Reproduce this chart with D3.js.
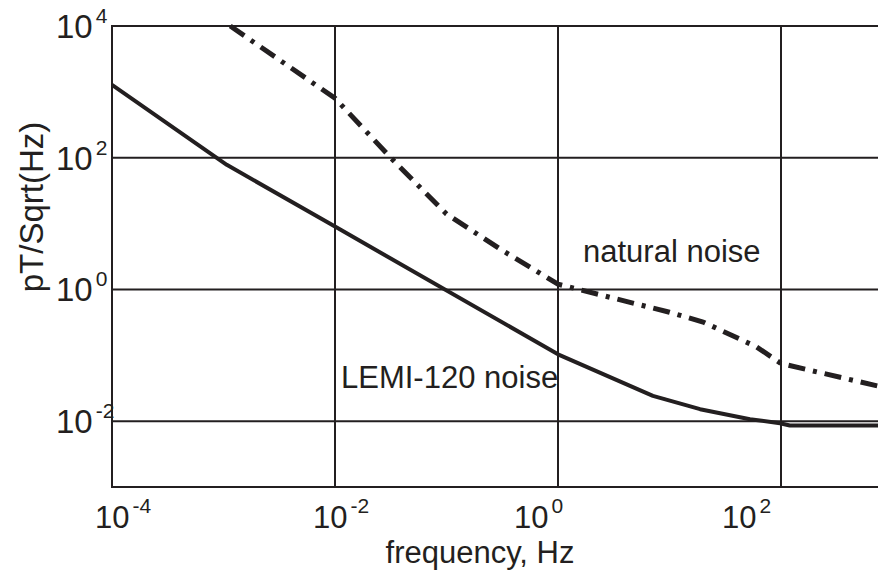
<!DOCTYPE html>
<html>
<head>
<meta charset="utf-8">
<script src="https://cdn.jsdelivr.net/npm/d3@7"></script>
<style>
  body { margin: 0; background: #fff; }
  text { font-family: "Liberation Sans", Arial, sans-serif; fill: #231f20; }
</style>
</head>
<body>
<div id="chart"></div>
<script>
// LEMI-120 sensor noise
const lemiFreq = [1e-4, 1.07e-3, 1e-2, 1, 7.1, 18.8, 52.7, 98, 120, 745];
const lemiNoise = [1280, 78, 9, 0.1035, 0.0242, 0.0152, 0.0107, 0.0093, 0.0086, 0.0086];

// natural magnetic noise
const naturalFreq = [1.15e-3, 1e-2, 3.16e-2, 0.1, 0.31, 1, 10, 20, 60, 100, 745];
const naturalNoise = [1e4, 800, 100, 14, 4, 1.2, 0.45, 0.32, 0.135, 0.075, 0.034];

// tick exponents
const xTickExp = [-4, -2, 0, 2];
const yTickExp = [4, 2, 0, -2];

const W = 878, H = 571;
const margin = { left: 112, right: 878, top: 26, bottom: 487 };
const ink = "#231f20";
// hand placed x tick labels in the original drift left of their ticks
const xLabelNudge = [-17, -22, -44, -59];

const svg = d3.select("#chart")
    .append("svg")
    .attr("width", W)
    .attr("height", H);

// x scale: 1e-4 .. 1e2 spans 112..781, chart cut off at the right edge
const x = d3.scaleLog()
    .domain([1e-4, 1e2])
    .range([margin.left, 781]);
const y = d3.scaleLog()
    .domain([1e-3, 1e4])
    .range([margin.bottom, margin.top]);

svg.append("clipPath").attr("id", "plot")
    .append("rect")
    .attr("x", margin.left).attr("y", margin.top - 5)
    .attr("width", margin.right - margin.left)
    .attr("height", margin.bottom - margin.top + 5);

// grid
const grid = svg.append("g").attr("stroke", ink).attr("stroke-width", 2);
grid.selectAll(".hg")
    .data(yTickExp)
    .join("line")
    .attr("x1", margin.left).attr("x2", margin.right)
    .attr("y1", d => y(Math.pow(10, d)))
    .attr("y2", d => y(Math.pow(10, d)));
grid.selectAll(".vg")
    .data(xTickExp.slice(1))
    .join("line")
    .attr("y1", margin.top).attr("y2", margin.bottom)
    .attr("x1", d => x(Math.pow(10, d)))
    .attr("x2", d => x(Math.pow(10, d)));
// frame (left + bottom)
grid.append("line")
    .attr("x1", margin.left).attr("x2", margin.left)
    .attr("y1", margin.top - 1).attr("y2", margin.bottom + 1);
grid.append("line")
    .attr("x1", margin.left).attr("x2", margin.right)
    .attr("y1", margin.bottom).attr("y2", margin.bottom);

// curves
const line = d3.line()
    .x(d => x(d[0]))
    .y(d => y(d[1]));

const plot = svg.append("g").attr("clip-path", "url(#plot)");

plot.append("path")
    .datum(d3.zip(lemiFreq, lemiNoise))
    .attr("fill", "none")
    .attr("stroke", ink)
    .attr("stroke-width", 4)
    .attr("stroke-linejoin", "round")
    .attr("d", line);

plot.append("path")
    .datum(d3.zip(naturalFreq, naturalNoise))
    .attr("fill", "none")
    .attr("stroke", ink)
    .attr("stroke-width", 5)
    .attr("stroke-dasharray", "17,8,4,8")
    .attr("d", line);

// power-of-ten label: "10" plus a raised exponent, in one text element
function powLabel(g, px, py, e, big) {
    const t = g.append("text")
        .attr("x", px).attr("y", py)
        .attr("font-size", big);
    t.append("tspan").text("10");
    t.append("tspan")
        .attr("dx", 3)
        .attr("dy", -15)
        .attr("font-size", 21)
        .text(e);
    return t;
}

// y tick labels
const yLab = svg.append("g");
yTickExp.forEach(e => {
    powLabel(yLab, 56, y(Math.pow(10, e)) + 12, e, 33);
});

// x tick labels
const xLab = svg.append("g");
xTickExp.forEach((e, i) => {
    powLabel(xLab, x(Math.pow(10, e)) + xLabelNudge[i], 528, e, 31);
});

// axis titles
svg.append("text")
    .attr("x", 480).attr("y", 563)
    .attr("text-anchor", "middle")
    .attr("font-size", 31)
    .text("frequency, Hz");

svg.append("text")
    .attr("transform", "translate(43,207) rotate(-90)")
    .attr("text-anchor", "middle")
    .attr("font-size", 33)
    .text("pT/Sqrt(Hz)");

// curve labels
svg.append("text")
    .attr("x", 583).attr("y", 262)
    .attr("font-size", 31)
    .text("natural noise");

svg.append("text")
    .attr("x", 341).attr("y", 388)
    .attr("font-size", 31)
    .text("LEMI-120 noise");
</script>
</body>
</html>
